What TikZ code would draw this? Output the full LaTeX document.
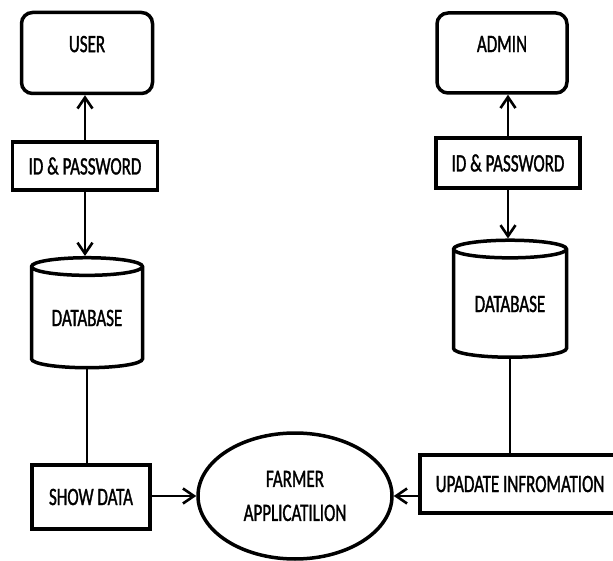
\documentclass[tikz,border=0pt]{standalone}
\usepackage{fontspec}
\setmainfont[FakeStretch=0.68,FakeBold=1.2]{Carlito}
\usetikzlibrary{shapes.geometric,arrows.meta}
\begin{document}
\begin{tikzpicture}[x=1pt,y=1pt,
  >={Straight Barb[length=11pt,width=15pt,line width=2.6pt]},
  font=\fontsize{25}{34}\selectfont,
  every node/.style={line width=3.5pt,inner sep=0pt,align=center},
  actor/.style={draw,rounded corners=11pt,text depth=18pt},
  box/.style={draw},
  db/.style={draw,cylinder,shape border rotate=90,aspect=0.25},
  flow/.style={line width=2pt}]
\useasboundingbox (0,0) rectangle (613,560);

\node[actor,minimum width=131pt,minimum height=81pt] (user) at (87,507) {USER};
\node[box,minimum width=145pt,minimum height=48pt] (uid) at (85,394) {ID \& PASSWORD};
\node[db,minimum width=111pt,minimum height=110pt] (udb) at (87,242) {DATABASE};
\node[box,minimum width=118pt,minimum height=64pt] (show) at (91,63) {SHOW DATA};

\node[actor,minimum width=130pt,minimum height=80pt] (admin) at (502,507) {ADMIN};
\node[box,minimum width=144pt,minimum height=50pt] (aid) at (508,397) {ID \& PASSWORD};
\node[db,minimum width=113pt,minimum height=117pt] (adb) at (510,256) {DATABASE};
\node[box,minimum width=200pt,minimum height=58pt] (update) at (520,76) {UPADATE INFROMATION};

\node[draw,ellipse,minimum width=194pt,minimum height=126pt] (farmer) at (295,64) {FARMER\\APPLICATILION};

\draw[flow,->] (uid.north) -- (uid.north |- user.south);
\draw[flow,->] (uid.south) -- (uid.south |- udb.north);
\draw[flow] (udb.south) -- (udb.south |- show.north);
\draw[flow,->] (show.east |- farmer.west) -- (farmer.west);

\draw[flow,->] (aid.north) -- (aid.north |- admin.south);
\draw[flow,->] (aid.south) -- (aid.south |- adb.north);
\draw[flow] (adb.south) -- (adb.south |- update.north);
\draw[flow,->] (update.west |- farmer.east) -- (farmer.east);
\end{tikzpicture}
\end{document}
